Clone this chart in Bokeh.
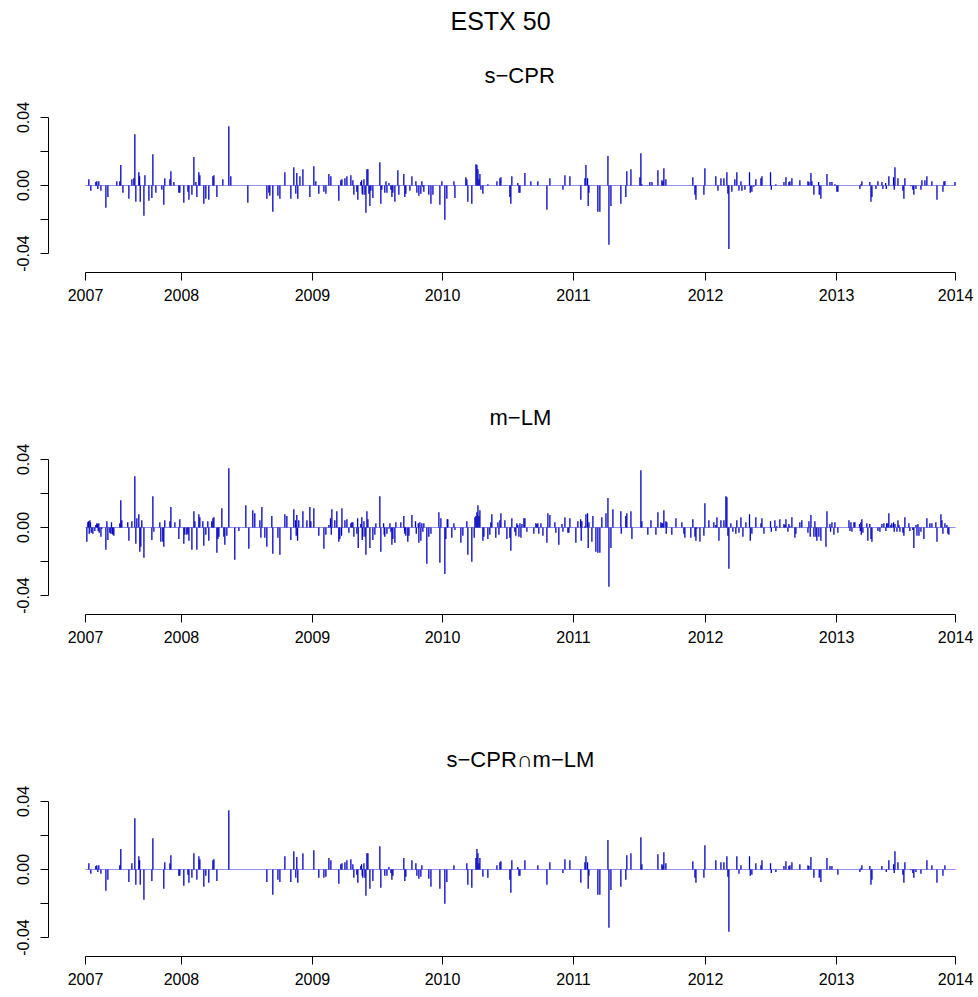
from bokeh.plotting import figure
from bokeh.layouts import column
from bokeh.models import FixedTicker, CustomJSTickFormatter, Title
from bokeh.embed import file_html
from bokeh.resources import INLINE

MAIN_TITLE = "ESTX 50"
PANEL_TITLES = ["s\u2212CPR", "m\u2212LM", "s\u2212CPR\u2229m\u2212LM"]
# x axis: sample time (years since 2007 on the plotting scale); year labels sit at these positions
YEAR_LABELS = ["2007", "2008", "2009", "2010", "2011", "2012", "2013", "2014"]
YEAR_TICK_POS = [2007.000, 2007.772, 2008.826, 2009.872, 2010.926, 2011.988, 2013.042, 2014.000]
RET_TICKS = [-0.04, -0.02, 0.0, 0.02, 0.04]
RET_LABELS = ["-0.04", "", "0.00", "", "0.04"]
PERIOD = [2007.0, 2014.0]

# ---- panel 1: s-CPR
SCPR_T = [
    2007.027, 2007.043, 2007.083, 2007.091, 2007.099, 2007.107, 2007.124, 2007.164, 2007.180, 2007.252,
    2007.276, 2007.284, 2007.301, 2007.349, 2007.373, 2007.389, 2007.397, 2007.405, 2007.429, 2007.435,
    2007.440, 2007.470, 2007.478, 2007.510, 2007.534, 2007.542, 2007.566, 2007.614, 2007.630, 2007.638,
    2007.679, 2007.687, 2007.711, 2007.751, 2007.759, 2007.791, 2007.824, 2007.832, 2007.856, 2007.872,
    2007.888, 2007.896, 2007.912, 2007.920, 2007.952, 2007.968, 2007.992, 2008.025, 2008.033, 2008.057,
    2008.105, 2008.153, 2008.169, 2008.306, 2008.459, 2008.475, 2008.483, 2008.507, 2008.548, 2008.564,
    2008.604, 2008.652, 2008.676, 2008.692, 2008.700, 2008.708, 2008.725, 2008.749,
    2008.805, 2008.837, 2008.853, 2008.877, 2008.918, 2008.934, 2008.958, 2008.974, 2009.038, 2009.054,
    2009.063, 2009.087, 2009.103, 2009.135, 2009.151, 2009.159, 2009.183, 2009.191, 2009.215, 2009.221,
    2009.226, 2009.231, 2009.240, 2009.248, 2009.256, 2009.264, 2009.272, 2009.280, 2009.288, 2009.296,
    2009.312, 2009.368, 2009.376, 2009.384, 2009.408, 2009.417, 2009.425, 2009.441, 2009.457, 2009.465,
    2009.473, 2009.489, 2009.513, 2009.521, 2009.561, 2009.569, 2009.577, 2009.610, 2009.626, 2009.658,
    2009.666, 2009.682, 2009.698, 2009.706, 2009.714, 2009.722, 2009.762, 2009.779, 2009.795, 2009.851,
    2009.867, 2009.891, 2009.907, 2009.964, 2009.972, 2010.060, 2010.068, 2010.076, 2010.108, 2010.141,
    2010.149, 2010.157, 2010.165, 2010.173, 2010.181, 2010.197, 2010.237, 2010.310, 2010.334, 2010.342,
    2010.374, 2010.414, 2010.422, 2010.430, 2010.478, 2010.487, 2010.495, 2010.535,
    2010.583, 2010.639, 2010.712, 2010.736, 2010.841, 2010.857, 2010.897, 2010.985, 2011.018, 2011.026,
    2011.039, 2011.044, 2011.050, 2011.122, 2011.138, 2011.203, 2011.211, 2011.227, 2011.307, 2011.347,
    2011.355, 2011.388, 2011.460, 2011.468, 2011.476, 2011.524, 2011.540, 2011.557, 2011.605, 2011.637,
    2011.645, 2011.653, 2011.669, 2011.886, 2011.903, 2011.911, 2011.975, 2011.983, 2012.071, 2012.088,
    2012.112, 2012.136, 2012.160, 2012.168, 2012.176, 2012.200, 2012.224, 2012.240, 2012.257, 2012.273,
    2012.281, 2012.305,
    2012.342, 2012.348, 2012.361, 2012.377, 2012.393, 2012.434, 2012.442, 2012.511, 2012.517, 2012.554,
    2012.594, 2012.619, 2012.635, 2012.659, 2012.667, 2012.683, 2012.747, 2012.812, 2012.820, 2012.836,
    2012.844, 2012.860, 2012.898, 2012.903, 2012.916, 2012.965, 2012.989, 2013.005, 2013.029, 2013.045,
    2013.053, 2013.230, 2013.238, 2013.246, 2013.310, 2013.319, 2013.327, 2013.359, 2013.375, 2013.407,
    2013.415, 2013.437, 2013.442, 2013.463, 2013.501, 2013.506, 2013.512, 2013.536, 2013.576, 2013.584,
    2013.592, 2013.640, 2013.656, 2013.664, 2013.681, 2013.721, 2013.729, 2013.753, 2013.769, 2013.809,
    2013.850, 2013.898, 2013.906, 2013.914, 2013.995,
]
SCPR_RETS = [
    0.0037, -0.0031, 0.0020, 0.0025, -0.0020, 0.0025, -0.0031, -0.0131, -0.0067, 0.0025,
    0.0025, 0.0120, -0.0043, -0.0078, 0.0037, 0.0043, 0.0302, -0.0096, 0.0078, 0.0055,
    -0.0096, -0.0178, 0.0061, -0.0090, -0.0073, 0.0184, -0.0043, -0.0025, -0.0114, 0.0043,
    0.0037, 0.0084, 0.0020, -0.0043, -0.0043, -0.0102, -0.0037, -0.0084, -0.0055, 0.0167,
    0.0020, -0.0067, 0.0078, 0.0061, -0.0108, -0.0078, -0.0084, 0.0055, 0.0061, -0.0067,
    0.0037, 0.0349, 0.0055, -0.0102, -0.0078, -0.0043, -0.0061, -0.0155, -0.0061, -0.0078,
    0.0078, -0.0078, 0.0108, -0.0049, 0.0073, -0.0078, 0.0055, 0.0096,
    -0.0067, 0.0114, 0.0025, -0.0049, -0.0037, -0.0049, 0.0067, 0.0055, -0.0090, 0.0031,
    0.0037, 0.0043, 0.0055, 0.0061, 0.0031, -0.0055, -0.0037, -0.0084, 0.0020, 0.0031,
    -0.0049, -0.0055, 0.0037, -0.0055, -0.0161, 0.0096, 0.0096, -0.0049, -0.0120, -0.0031,
    -0.0073, 0.0137, -0.0108, -0.0025, -0.0043, 0.0025, -0.0043, 0.0014, -0.0025, -0.0067,
    -0.0043, -0.0096, 0.0090, -0.0055, 0.0067, -0.0067, -0.0049, -0.0031, 0.0055, 0.0025,
    -0.0043, -0.0061, -0.0049, 0.0025, -0.0008, -0.0037, -0.0055, -0.0108, -0.0055, -0.0114,
    0.0025, -0.0202, -0.0078, 0.0025, -0.0073, 0.0049, 0.0037, -0.0096, -0.0108, 0.0125,
    0.0120, 0.0096, 0.0037, 0.0067, -0.0025, -0.0049, 0.0008, 0.0025, 0.0043, 0.0049,
    0.0002, -0.0067, -0.0108, 0.0055, 0.0014, -0.0043, -0.0043, 0.0073,
    0.0025, 0.0025, -0.0143, 0.0043, -0.0025, 0.0061, 0.0055, -0.0084, 0.0043, 0.0120,
    0.0043, -0.0120, -0.0043, -0.0155, -0.0155, 0.0173, -0.0349, -0.0120, -0.0108, -0.0067,
    0.0084, 0.0096, 0.0049, 0.0190, 0.0008, 0.0002, 0.0020, 0.0020, 0.0090, 0.0031,
    0.0025, 0.0102, 0.0037, 0.0049, -0.0055, -0.0084, -0.0055, 0.0102, 0.0055, -0.0031,
    0.0043, 0.0043, 0.0078, -0.0049, -0.0373, -0.0037, 0.0037, 0.0078, -0.0031, 0.0025,
    -0.0031, -0.0025,
    0.0078, -0.0043, -0.0037, -0.0008, 0.0037, 0.0043, 0.0055, 0.0078, -0.0025, 0.0008,
    0.0002, 0.0020, 0.0049, 0.0020, 0.0025, 0.0043, 0.0031, 0.0025, 0.0020, 0.0073,
    0.0025, -0.0055, 0.0020, -0.0055, -0.0078, 0.0067, 0.0020, 0.0020, 0.0008, -0.0037,
    -0.0037, -0.0020, 0.0008, 0.0025, 0.0020, -0.0096, -0.0067, -0.0020, 0.0025, 0.0020,
    -0.0020, 0.0014, -0.0020, 0.0055, 0.0049, -0.0025, 0.0108, 0.0043, -0.0031, -0.0078,
    0.0043, -0.0004, -0.0025, -0.0055, -0.0020, -0.0025, 0.0031, 0.0031, 0.0055, 0.0025,
    -0.0084, -0.0037, 0.0025, 0.0025, 0.0020,
]

# ---- panel 2: m-LM
MLM_T = [
    2007.011, 2007.019, 2007.024, 2007.030, 2007.035, 2007.040, 2007.046, 2007.059, 2007.075, 2007.083,
    2007.091, 2007.097, 2007.102, 2007.107, 2007.110, 2007.124, 2007.131, 2007.164, 2007.172, 2007.180,
    2007.196, 2007.204, 2007.209, 2007.215, 2007.220, 2007.228, 2007.276, 2007.284, 2007.292, 2007.340,
    2007.349, 2007.373, 2007.397, 2007.405, 2007.413, 2007.429, 2007.437, 2007.445, 2007.453, 2007.470,
    2007.534, 2007.542, 2007.550, 2007.598, 2007.606, 2007.622, 2007.630, 2007.638, 2007.679, 2007.687,
    2007.719, 2007.751, 2007.759, 2007.791, 2007.799, 2007.815, 2007.824, 2007.832, 2007.856, 2007.872,
    2007.880, 2007.896, 2007.912, 2007.920, 2007.944, 2007.952, 2007.968, 2007.984, 2007.992, 2008.016,
    2008.025, 2008.033, 2008.057, 2008.065, 2008.073, 2008.097, 2008.113, 2008.121, 2008.137, 2008.153,
    2008.201, 2008.234, 2008.290, 2008.314, 2008.346, 2008.362, 2008.403, 2008.411, 2008.419, 2008.443,
    2008.459, 2008.499, 2008.507, 2008.548, 2008.564, 2008.604, 2008.620, 2008.652, 2008.676, 2008.690,
    2008.695, 2008.700, 2008.706, 2008.716, 2008.749,
    2008.781, 2008.805, 2008.813, 2008.837, 2008.877, 2008.918, 2008.934, 2008.958, 2008.971, 2008.977,
    2008.982, 2009.006, 2009.022, 2009.038, 2009.046, 2009.060, 2009.063, 2009.087, 2009.103, 2009.119,
    2009.135, 2009.143, 2009.151, 2009.159, 2009.183, 2009.189, 2009.194, 2009.215, 2009.223, 2009.226,
    2009.231, 2009.240, 2009.248, 2009.256, 2009.264, 2009.272, 2009.288, 2009.312, 2009.328, 2009.336,
    2009.368, 2009.376, 2009.398, 2009.403, 2009.408, 2009.425, 2009.441, 2009.449, 2009.457, 2009.465,
    2009.473, 2009.489, 2009.497, 2009.537, 2009.561, 2009.567, 2009.569, 2009.577, 2009.593, 2009.602,
    2009.626, 2009.655, 2009.661, 2009.677, 2009.682, 2009.690, 2009.698, 2009.706, 2009.714, 2009.722,
    2009.746, 2009.762, 2009.779, 2009.843, 2009.851, 2009.859, 2009.891, 2009.899, 2009.910, 2009.915,
    2009.947, 2009.964, 2009.972, 2010.020, 2010.036, 2010.068, 2010.076, 2010.108, 2010.127, 2010.133,
    2010.141, 2010.149, 2010.157, 2010.165, 2010.173, 2010.197, 2010.205, 2010.237, 2010.253, 2010.261,
    2010.269, 2010.301, 2010.318, 2010.326, 2010.334, 2010.342, 2010.374, 2010.390, 2010.414, 2010.422,
    2010.430, 2010.454, 2010.462, 2010.470, 2010.478, 2010.487, 2010.495, 2010.503, 2010.511, 2010.527,
    2010.535,
    2010.551, 2010.607, 2010.623, 2010.631, 2010.639, 2010.647, 2010.664, 2010.680, 2010.712, 2010.720,
    2010.736, 2010.776, 2010.784, 2010.808, 2010.833, 2010.841, 2010.857, 2010.881, 2010.889, 2010.897,
    2010.945, 2010.961, 2010.983, 2010.988, 2010.993, 2011.018, 2011.026, 2011.039, 2011.044, 2011.050,
    2011.074, 2011.082, 2011.106, 2011.122, 2011.138, 2011.154, 2011.187, 2011.203, 2011.211, 2011.227,
    2011.243, 2011.307, 2011.310, 2011.347, 2011.355, 2011.388, 2011.396, 2011.468, 2011.476, 2011.524,
    2011.549, 2011.589, 2011.605, 2011.629, 2011.637, 2011.645, 2011.653, 2011.669, 2011.672, 2011.677,
    2011.717, 2011.750, 2011.798, 2011.814, 2011.822, 2011.870, 2011.886, 2011.903, 2011.911, 2011.919,
    2011.943, 2011.975, 2011.983, 2012.015, 2012.055, 2012.071, 2012.080, 2012.096, 2012.112, 2012.136,
    2012.152, 2012.160, 2012.168, 2012.176, 2012.192, 2012.208, 2012.232, 2012.240, 2012.257, 2012.273,
    2012.289,
    2012.313, 2012.342, 2012.348, 2012.361, 2012.393, 2012.434, 2012.442, 2012.458, 2012.511, 2012.517,
    2012.546, 2012.554, 2012.562, 2012.586, 2012.619, 2012.627, 2012.635, 2012.651, 2012.659, 2012.667,
    2012.683, 2012.707, 2012.715, 2012.747, 2012.763, 2012.812, 2012.820, 2012.830, 2012.836, 2012.860,
    2012.868, 2012.876, 2012.884, 2012.900, 2012.916, 2012.957, 2012.965, 2012.989, 2012.994, 2013.005,
    2013.021, 2013.029, 2013.053, 2013.142, 2013.150, 2013.158, 2013.166, 2013.182, 2013.190, 2013.227,
    2013.233, 2013.238, 2013.241, 2013.246, 2013.254, 2013.286, 2013.294, 2013.310, 2013.319, 2013.327,
    2013.375, 2013.391, 2013.407, 2013.423, 2013.439, 2013.445, 2013.455, 2013.463, 2013.479, 2013.487,
    2013.501, 2013.506, 2013.512, 2013.528, 2013.536, 2013.544, 2013.552, 2013.576, 2013.584, 2013.592,
    2013.624, 2013.632, 2013.656, 2013.664, 2013.681, 2013.689, 2013.697, 2013.705, 2013.721, 2013.745,
    2013.769, 2013.793, 2013.809, 2013.841, 2013.850, 2013.882, 2013.890, 2013.898, 2013.914, 2013.930,
    2013.938, 2013.946,
]
MLM_RETS = [
    -0.0084, 0.0031, 0.0037, -0.0037, 0.0043, 0.0031, -0.0031, -0.0037, -0.0020, 0.0014,
    0.0025, 0.0020, -0.0020, 0.0025, -0.0031, -0.0055, -0.0008, -0.0131, 0.0037, -0.0073,
    -0.0031, -0.0037, 0.0031, -0.0037, -0.0043, -0.0049, 0.0025, 0.0161, 0.0043, 0.0031,
    -0.0078, 0.0037, 0.0302, -0.0096, 0.0055, 0.0078, -0.0143, -0.0114, 0.0043, -0.0178,
    -0.0073, 0.0184, -0.0025, 0.0031, -0.0084, -0.0084, -0.0114, 0.0043, 0.0037, 0.0120,
    0.0031, -0.0067, 0.0049, -0.0096, -0.0043, -0.0043, -0.0037, -0.0078, -0.0131, 0.0096,
    0.0037, -0.0131, 0.0078, 0.0061, 0.0037, -0.0108, -0.0043, 0.0037, -0.0078, 0.0037,
    0.0055, 0.0061, -0.0149, -0.0067, -0.0055, 0.0114, -0.0055, -0.0102, -0.0049, 0.0349,
    -0.0190, -0.0020, 0.0131, -0.0125, 0.0102, 0.0084, 0.0043, -0.0061, 0.0120, -0.0061,
    -0.0114, 0.0067, -0.0155, -0.0061, -0.0161, 0.0078, 0.0067, -0.0073, 0.0108, 0.0043,
    -0.0049, 0.0073, -0.0078, 0.0043, 0.0096,
    0.0043, 0.0120, 0.0037, 0.0114, -0.0049, -0.0125, -0.0043, 0.0014, 0.0055, -0.0043,
    0.0108, 0.0043, 0.0096, -0.0084, -0.0067, -0.0049, 0.0114, 0.0043, 0.0049, -0.0031,
    0.0025, 0.0031, 0.0031, -0.0055, -0.0037, 0.0055, -0.0120, 0.0020, 0.0061, -0.0073,
    -0.0055, 0.0037, -0.0055, -0.0161, 0.0096, 0.0049, -0.0120, -0.0073, -0.0043, 0.0025,
    0.0184, -0.0143, 0.0025, -0.0043, -0.0055, -0.0037, -0.0008, 0.0025, -0.0025, -0.0102,
    -0.0067, -0.0090, 0.0031, 0.0031, 0.0067, -0.0020, -0.0037, -0.0049, -0.0084, -0.0049,
    0.0073, 0.0037, -0.0037, 0.0025, -0.0090, 0.0031, -0.0078, 0.0025, -0.0025, 0.0025,
    -0.0214, -0.0055, -0.0037, 0.0090, -0.0208, 0.0055, -0.0273, -0.0067, 0.0049, 0.0049,
    -0.0061, 0.0025, -0.0014, -0.0090, -0.0049, 0.0037, -0.0161, -0.0202, -0.0061, 0.0061,
    0.0067, 0.0090, 0.0131, 0.0067, 0.0102, -0.0078, -0.0055, -0.0067, -0.0043, 0.0031,
    0.0078, -0.0061, 0.0031, -0.0043, 0.0043, 0.0084, 0.0043, -0.0067, -0.0061, -0.0137,
    0.0055, -0.0025, -0.0049, 0.0025, 0.0014, -0.0055, 0.0025, -0.0061, 0.0020, 0.0055,
    0.0055,
    -0.0025, -0.0037, 0.0025, 0.0020, 0.0025, -0.0037, 0.0025, -0.0049, -0.0090, 0.0084,
    0.0073, 0.0031, -0.0031, -0.0102, 0.0020, -0.0025, 0.0061, -0.0031, -0.0031, 0.0055,
    -0.0090, 0.0037, 0.0049, -0.0078, 0.0037, 0.0008, 0.0078, 0.0084, -0.0120, 0.0031,
    -0.0084, 0.0067, -0.0143, -0.0149, -0.0149, 0.0061, 0.0084, 0.0173, -0.0349, -0.0120,
    0.0108, 0.0096, -0.0037, 0.0067, 0.0084, 0.0096, -0.0067, 0.0337, 0.0037, -0.0043,
    0.0043, -0.0043, 0.0090, 0.0031, 0.0025, 0.0025, 0.0102, 0.0037, -0.0037, 0.0031,
    -0.0043, 0.0055, 0.0031, -0.0037, -0.0061, -0.0061, 0.0049, -0.0055, -0.0078, -0.0008,
    -0.0084, -0.0049, 0.0143, 0.0043, 0.0031, 0.0014, 0.0061, -0.0078, 0.0043, 0.0043,
    0.0184, 0.0178, -0.0049, -0.0243, 0.0025, -0.0025, -0.0037, 0.0043, -0.0031, 0.0061,
    -0.0055,
    0.0031, 0.0078, -0.0078, -0.0037, 0.0061, 0.0025, 0.0055, -0.0037, 0.0037, -0.0025,
    0.0043, -0.0020, 0.0008, 0.0049, 0.0020, 0.0014, 0.0049, -0.0025, 0.0020, 0.0008,
    0.0061, -0.0061, -0.0037, 0.0031, 0.0043, -0.0031, 0.0037, -0.0055, 0.0073, -0.0055,
    0.0037, -0.0055, -0.0078, -0.0055, -0.0078, -0.0114, 0.0096, 0.0020, -0.0025, 0.0031,
    -0.0043, 0.0031, -0.0031, 0.0043, -0.0020, 0.0031, -0.0025, 0.0031, 0.0031, 0.0020,
    -0.0020, 0.0031, -0.0043, 0.0049, -0.0031, 0.0025, -0.0078, 0.0020, -0.0067, -0.0084,
    -0.0020, -0.0025, 0.0020, 0.0025, -0.0020, 0.0025, 0.0025, 0.0084, 0.0014, 0.0025,
    0.0031, -0.0025, 0.0020, -0.0025, 0.0043, 0.0014, -0.0025, -0.0031, -0.0049, 0.0061,
    0.0025, -0.0020, -0.0014, -0.0120, 0.0014, -0.0049, 0.0020, -0.0049, -0.0025, -0.0067,
    0.0055, 0.0025, 0.0025, 0.0031, -0.0084, 0.0078, 0.0043, -0.0037, 0.0025, 0.0014,
    -0.0037, -0.0043,
]

# ---- panel 3: days flagged by both s-CPR and m-LM
BOTH_T = [
    2007.027, 2007.043, 2007.083, 2007.091, 2007.099, 2007.107, 2007.124, 2007.164, 2007.180, 2007.276,
    2007.284, 2007.349, 2007.373, 2007.397, 2007.405, 2007.429, 2007.435, 2007.440, 2007.470, 2007.534,
    2007.542, 2007.630, 2007.638, 2007.679, 2007.687, 2007.751, 2007.759, 2007.791, 2007.824, 2007.832,
    2007.856, 2007.872, 2007.896, 2007.912, 2007.920, 2007.952, 2007.968, 2007.992, 2008.025, 2008.033,
    2008.057, 2008.153, 2008.459, 2008.507, 2008.548, 2008.564, 2008.604, 2008.652, 2008.676, 2008.692,
    2008.700, 2008.708, 2008.749,
    2008.837, 2008.877, 2008.918, 2008.934, 2008.958, 2008.974, 2009.038, 2009.054, 2009.063, 2009.087,
    2009.103, 2009.135, 2009.151, 2009.159, 2009.183, 2009.191, 2009.215, 2009.221, 2009.226, 2009.231,
    2009.240, 2009.248, 2009.256, 2009.264, 2009.272, 2009.288, 2009.312, 2009.368, 2009.376, 2009.408,
    2009.425, 2009.441, 2009.457, 2009.465, 2009.473, 2009.561, 2009.569, 2009.577, 2009.626, 2009.658,
    2009.666, 2009.682, 2009.698, 2009.706, 2009.762, 2009.779, 2009.851, 2009.891, 2009.907, 2009.964,
    2010.068, 2010.076, 2010.108, 2010.141, 2010.149, 2010.157, 2010.165, 2010.173, 2010.197, 2010.237,
    2010.310, 2010.334, 2010.342, 2010.414, 2010.422, 2010.430, 2010.478, 2010.487, 2010.495, 2010.535,
    2010.639, 2010.712, 2010.736, 2010.841, 2010.857, 2010.897, 2010.985, 2011.018, 2011.026, 2011.039,
    2011.044, 2011.050, 2011.122, 2011.138, 2011.203, 2011.211, 2011.227, 2011.307, 2011.347, 2011.355,
    2011.388, 2011.468, 2011.476, 2011.524, 2011.605, 2011.637, 2011.645, 2011.653, 2011.669, 2011.886,
    2011.903, 2011.911, 2011.975, 2011.983, 2012.071, 2012.112, 2012.136, 2012.160, 2012.168, 2012.176,
    2012.240, 2012.257, 2012.273,
    2012.342, 2012.348, 2012.361, 2012.393, 2012.434, 2012.442, 2012.511, 2012.517, 2012.554, 2012.619,
    2012.635, 2012.659, 2012.667, 2012.683, 2012.747, 2012.812, 2012.820, 2012.836, 2012.860, 2012.903,
    2012.916, 2012.965, 2012.989, 2013.005, 2013.053, 2013.230, 2013.238, 2013.246, 2013.310, 2013.319,
    2013.327, 2013.407, 2013.442, 2013.463, 2013.501, 2013.506, 2013.512, 2013.536, 2013.576, 2013.584,
    2013.592, 2013.640, 2013.656, 2013.664, 2013.681, 2013.721, 2013.769, 2013.809, 2013.850, 2013.898,
    2013.914,
]
BOTH_RETS = [
    0.0037, -0.0025, 0.0020, 0.0025, -0.0014, 0.0025, -0.0025, -0.0125, -0.0061, 0.0025,
    0.0120, -0.0073, 0.0037, 0.0302, -0.0090, 0.0078, 0.0055, -0.0090, -0.0178, -0.0067,
    0.0184, -0.0114, 0.0043, 0.0037, 0.0084, -0.0037, -0.0037, -0.0096, -0.0031, -0.0078,
    -0.0049, 0.0096, -0.0061, 0.0078, 0.0061, -0.0102, -0.0037, -0.0078, 0.0055, 0.0061,
    -0.0067, 0.0349, -0.0073, -0.0149, -0.0061, -0.0073, 0.0078, -0.0073, 0.0108, -0.0049,
    0.0073, -0.0078, 0.0096,
    0.0114, -0.0049, -0.0049, -0.0043, 0.0067, 0.0055, -0.0084, 0.0031, 0.0037, 0.0043,
    0.0055, 0.0061, 0.0031, -0.0049, -0.0031, -0.0078, 0.0020, 0.0031, -0.0037, -0.0049,
    0.0037, -0.0049, -0.0155, 0.0096, 0.0096, -0.0114, -0.0067, 0.0137, -0.0108, -0.0037,
    -0.0037, 0.0014, -0.0020, -0.0061, -0.0037, 0.0067, -0.0067, -0.0043, 0.0055, 0.0037,
    -0.0037, -0.0055, -0.0043, 0.0025, -0.0055, -0.0102, -0.0114, -0.0202, -0.0073, 0.0025,
    0.0037, -0.0090, -0.0108, 0.0067, 0.0120, 0.0096, 0.0037, 0.0067, -0.0043, -0.0049,
    0.0025, 0.0043, 0.0049, -0.0061, -0.0137, 0.0055, 0.0014, -0.0037, -0.0037, 0.0055,
    0.0025, -0.0090, 0.0043, -0.0020, 0.0061, 0.0055, -0.0078, 0.0043, 0.0078, 0.0043,
    -0.0114, -0.0037, -0.0149, -0.0149, 0.0173, -0.0343, -0.0120, -0.0102, -0.0061, 0.0084,
    0.0096, 0.0190, 0.0031, 0.0002, 0.0090, 0.0031, 0.0025, 0.0102, 0.0037, 0.0049,
    -0.0049, -0.0078, -0.0049, 0.0143, 0.0055, 0.0043, 0.0043, 0.0078, -0.0043, -0.0367,
    0.0078, -0.0025, 0.0025,
    0.0078, -0.0037, -0.0031, 0.0037, 0.0025, 0.0055, 0.0037, -0.0020, -0.0014, 0.0020,
    0.0049, 0.0020, 0.0025, 0.0043, 0.0031, 0.0025, 0.0020, 0.0073, -0.0049, -0.0049,
    -0.0073, 0.0067, 0.0020, 0.0020, -0.0031, -0.0014, 0.0008, 0.0025, 0.0020, -0.0090,
    -0.0061, 0.0020, -0.0014, 0.0055, 0.0031, -0.0020, 0.0108, 0.0043, -0.0031, -0.0078,
    0.0043, -0.0004, -0.0020, -0.0049, -0.0014, -0.0025, 0.0055, 0.0025, -0.0078, -0.0037,
    0.0025,
]

PANELS = [
    (PANEL_TITLES[0], SCPR_T, SCPR_RETS),
    (PANEL_TITLES[1], MLM_T, MLM_RETS),
    (PANEL_TITLES[2], BOTH_T, BOTH_RETS),
]

FONT = "Liberation Sans"
SPIKE_COLOR = "#0000c0"
ZERO_COLOR = "#9090ee"
# horizontal placement of each title (pixels from the left edge of the plot area)
MAIN_TITLE_OFFSET = 402
TITLE_OFFSETS = [436, 441, 398]


def make_header(text):
    h = figure(width=978, height=45, title=None, x_axis_type=None, y_axis_type=None,
               output_backend="svg", toolbar_location=None,
               min_border_left=48, min_border_right=3, min_border_top=0, min_border_bottom=0)
    h.outline_line_color = None
    h.background_fill_color = "white"
    h.border_fill_color = "white"
    h.add_layout(Title(text=text, align="left", offset=MAIN_TITLE_OFFSET, text_font=FONT,
                       text_font_size="25px", text_font_style="normal",
                       text_color="black", standoff=9), "above")
    return h


def make_panel(title, times, rets, height, border_top, border_bottom, title_offset):
    assert len(times) == len(rets), (title, len(times), len(rets))
    p = figure(width=978, height=height, title=None,
               x_range=(2006.7023, 2014.16), y_range=(-0.0512, 0.0512),
               output_backend="svg", toolbar_location=None,
               min_border_left=48, min_border_right=3,
               min_border_top=border_top, min_border_bottom=border_bottom)
    p.outline_line_color = None
    p.xgrid.visible = False
    p.ygrid.visible = False
    p.background_fill_color = "white"
    p.border_fill_color = "white"

    p.line(x=PERIOD, y=[0, 0], line_color=ZERO_COLOR, line_width=1)
    p.segment(x0=times, y0=[0] * len(times), x1=times, y1=rets,
              line_color=SPIKE_COLOR, line_width=1.3)

    p.add_layout(Title(text=title, align="left", offset=title_offset, text_font=FONT,
                       text_font_size="22px", text_font_style="normal",
                       text_color="black", standoff=22), "above")

    xa = p.xaxis[0]
    xa.ticker = FixedTicker(ticks=YEAR_TICK_POS)
    xa.formatter = CustomJSTickFormatter(args=dict(labels=YEAR_LABELS),
                                         code="return labels[index];")
    xa.bounds = (YEAR_TICK_POS[0], YEAR_TICK_POS[-1])

    ya = p.yaxis[0]
    ya.ticker = FixedTicker(ticks=RET_TICKS)
    ya.formatter = CustomJSTickFormatter(args=dict(labels=RET_LABELS),
                                         code="return labels[index];")
    ya.bounds = (RET_TICKS[0], RET_TICKS[-1])
    ya.major_label_orientation = "vertical"

    for ax in (xa, ya):
        ax.axis_line_color = "black"
        ax.axis_line_width = 1
        ax.major_tick_line_color = "black"
        ax.major_tick_out = 8
        ax.major_tick_in = 0
        ax.minor_tick_line_color = None
        ax.major_label_text_font = FONT
        ax.major_label_text_font_size = "16px"
        ax.major_label_text_color = "black"
    xa.major_label_standoff = 8
    ya.major_label_standoff = 12
    return p


header = make_header(MAIN_TITLE)
p1 = make_panel(*PANELS[0], height=297, border_top=53, border_bottom=70, title_offset=TITLE_OFFSETS[0])
p2 = make_panel(*PANELS[1], height=342, border_top=98, border_bottom=70, title_offset=TITLE_OFFSETS[1])
p3 = make_panel(*PANELS[2], height=313, border_top=98, border_bottom=41, title_offset=TITLE_OFFSETS[2])

layout = column(header, p1, p2, p3, spacing=0)
open("out.html", "w").write(file_html(layout, INLINE))
